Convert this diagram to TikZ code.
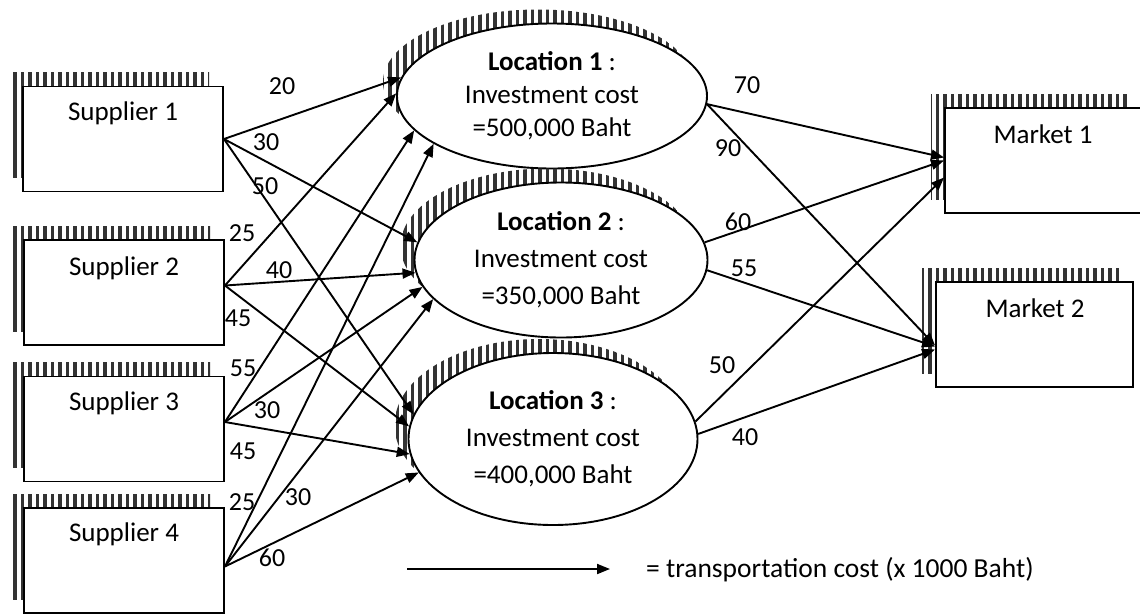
\documentclass[tikz,border=0pt]{standalone}
\usepackage{fontspec}
\setmainfont{Carlito}
\usetikzlibrary{shapes.geometric,arrows.meta,patterns.meta}
\begin{document}
\begin{tikzpicture}[x=1pt,y=-1pt,
  hatch/.style={draw=none,pattern={Lines[angle=90,distance=7.5pt,line width=3.2pt]},pattern color=black!80},
  boxnode/.style={draw,line width=1.9pt,fill=white,rectangle,inner sep=0pt,
      minimum width=200pt,minimum height=105pt},
  locnode/.style={draw,line width=1.9pt,fill=white,ellipse,inner sep=0pt,align=center},
  boxtext/.style={font=\fontsize{27}{32}\selectfont,inner sep=0pt},
  cost/.style={font=\fontsize{26}{30}\selectfont,inner sep=1pt},
  flow/.style={line width=1.9pt,-{Triangle[length=13pt,width=10pt]}},
]
\useasboundingbox (0,0) rectangle (1140,614);

% box shadows
\path[hatch] (9,72) rectangle (209,177);
\path[hatch] (10,226) rectangle (210,331);
\path[hatch] (10,362.5) rectangle (210,467.5);
\path[hatch] (10,494) rectangle (210,599);
\path[hatch] (931,94) rectangle (1128,199);
\path[hatch] (922,268) rectangle (1119,373);

% suppliers
\node[boxnode] (s1) at (123,139) {};
\node[boxtext] (s1t) at (123,113) {Supplier 1};
\node[boxnode] (s2) at (124,292.5) {};
\node[boxtext] (s2t) at (124,268) {Supplier 2};
\node[boxnode] (s3) at (124,429) {};
\node[boxtext] (s3t) at (124,403) {Supplier 3};
\node[boxnode] (s4) at (124,560.5) {};
\node[boxtext] (s4t) at (124,534) {Supplier 4};

% markets
\node[boxnode,minimum width=197pt] (m1) at (1043.5,160.5) {};
\node[boxtext] (m1t) at (1043,134) {Market 1};
\node[boxnode,minimum width=197pt] (m2) at (1034.5,334.5) {};
\node[boxtext] (m2t) at (1035,308) {Market 2};

% locations (each with its hatched shadow)
\path[hatch] (538,82) ellipse [x radius=155, y radius=72.5];
\node[locnode,minimum width=310pt,minimum height=145pt,font=\fontsize{27}{33}\selectfont] (l1) at (552,96)
  {\textbf{Location 1} :\\Investment cost\\=500,000 Baht};
\path[hatch] (547,246) ellipse [x radius=146.5, y radius=77.5];
\node[locnode,minimum width=293pt,minimum height=155pt,font=\fontsize{27}{37}\selectfont] (l2) at (561,260)
  {\textbf{Location 2} :\\Investment cost\\=350,000 Baht};
\path[hatch] (539,425) ellipse [x radius=144.5, y radius=86];
\node[locnode,minimum width=289pt,minimum height=172pt,font=\fontsize{27}{37}\selectfont] (l3) at (553,439)
  {\textbf{Location 3} :\\Investment cost\\=400,000 Baht};

% supplier -> location
\draw[flow] (s1.east) -- (l1.173);
\draw[flow] (s1.east) -- (l2.173);
\draw[flow] (s1.east) -- (l3.170);
\draw[flow] ([yshift=7pt]s2.east) -- (l1.179);
\draw[flow] ([yshift=7pt]s2.east) -- (l2.185);
\draw[flow] ([yshift=7pt]s2.east) -- (l3.175);
\draw[flow] ([yshift=7pt]s3.east) -- (l1.194);
\draw[flow] ([yshift=7pt]s3.east) -- (l2.191);
\draw[flow] ([yshift=7pt]s3.east) -- (l3.186);
\draw[flow] ([yshift=-6pt]s4.east) -- (l1.202);
\draw[flow] ([yshift=-6pt]s4.east) -- (l2.197);
\draw[flow] ([yshift=-6pt]s4.east) -- (l3.194);

% location -> market
\draw[flow] (l1.357) -- ([yshift=3pt]m1.west);
\draw[flow] (l1.357) -- ([yshift=-11pt]m2.west);
\draw[flow] (l2.7) -- (m1.west);
\draw[flow] (l2.356) -- ([yshift=-12pt]m2.west);
\draw[flow] (l3.7) -- ([yshift=-17pt]m1.west);
\draw[flow] (l3.2) -- ([yshift=-15pt]m2.west);

% cost labels
\node[cost] (c1) at (282,86) {20};
\node[cost] (c2) at (266,142) {30};
\node[cost] (c3) at (265,186) {50};
\node[cost] (c4) at (242,233) {25};
\node[cost] (c5) at (279,270) {40};
\node[cost] (c6) at (238,318) {45};
\node[cost] (c7) at (243,368) {55};
\node[cost] (c8) at (267,410) {30};
\node[cost] (c9) at (243,451) {45};
\node[cost] (c10) at (242,502) {25};
\node[cost] (c11) at (298,497) {30};
\node[cost] (c12) at (272,558) {60};
\node[cost] (r1) at (747,85) {70};
\node[cost] (r2) at (728,148) {90};
\node[cost] (r3) at (738,222) {60};
\node[cost] (r4) at (744,268) {55};
\node[cost] (r5) at (722,365) {50};
\node[cost] (r6) at (745,437) {40};

% legend
\coordinate (la) at (407,569);
\coordinate (lb) at (610,569);
\draw[flow] (la) -- (lb);
\node[boxtext,anchor=west,font=\fontsize{27.5}{32}\selectfont] (lt) at (646,570) {= transportation cost (x 1000 Baht)};
\end{tikzpicture}
\end{document}
